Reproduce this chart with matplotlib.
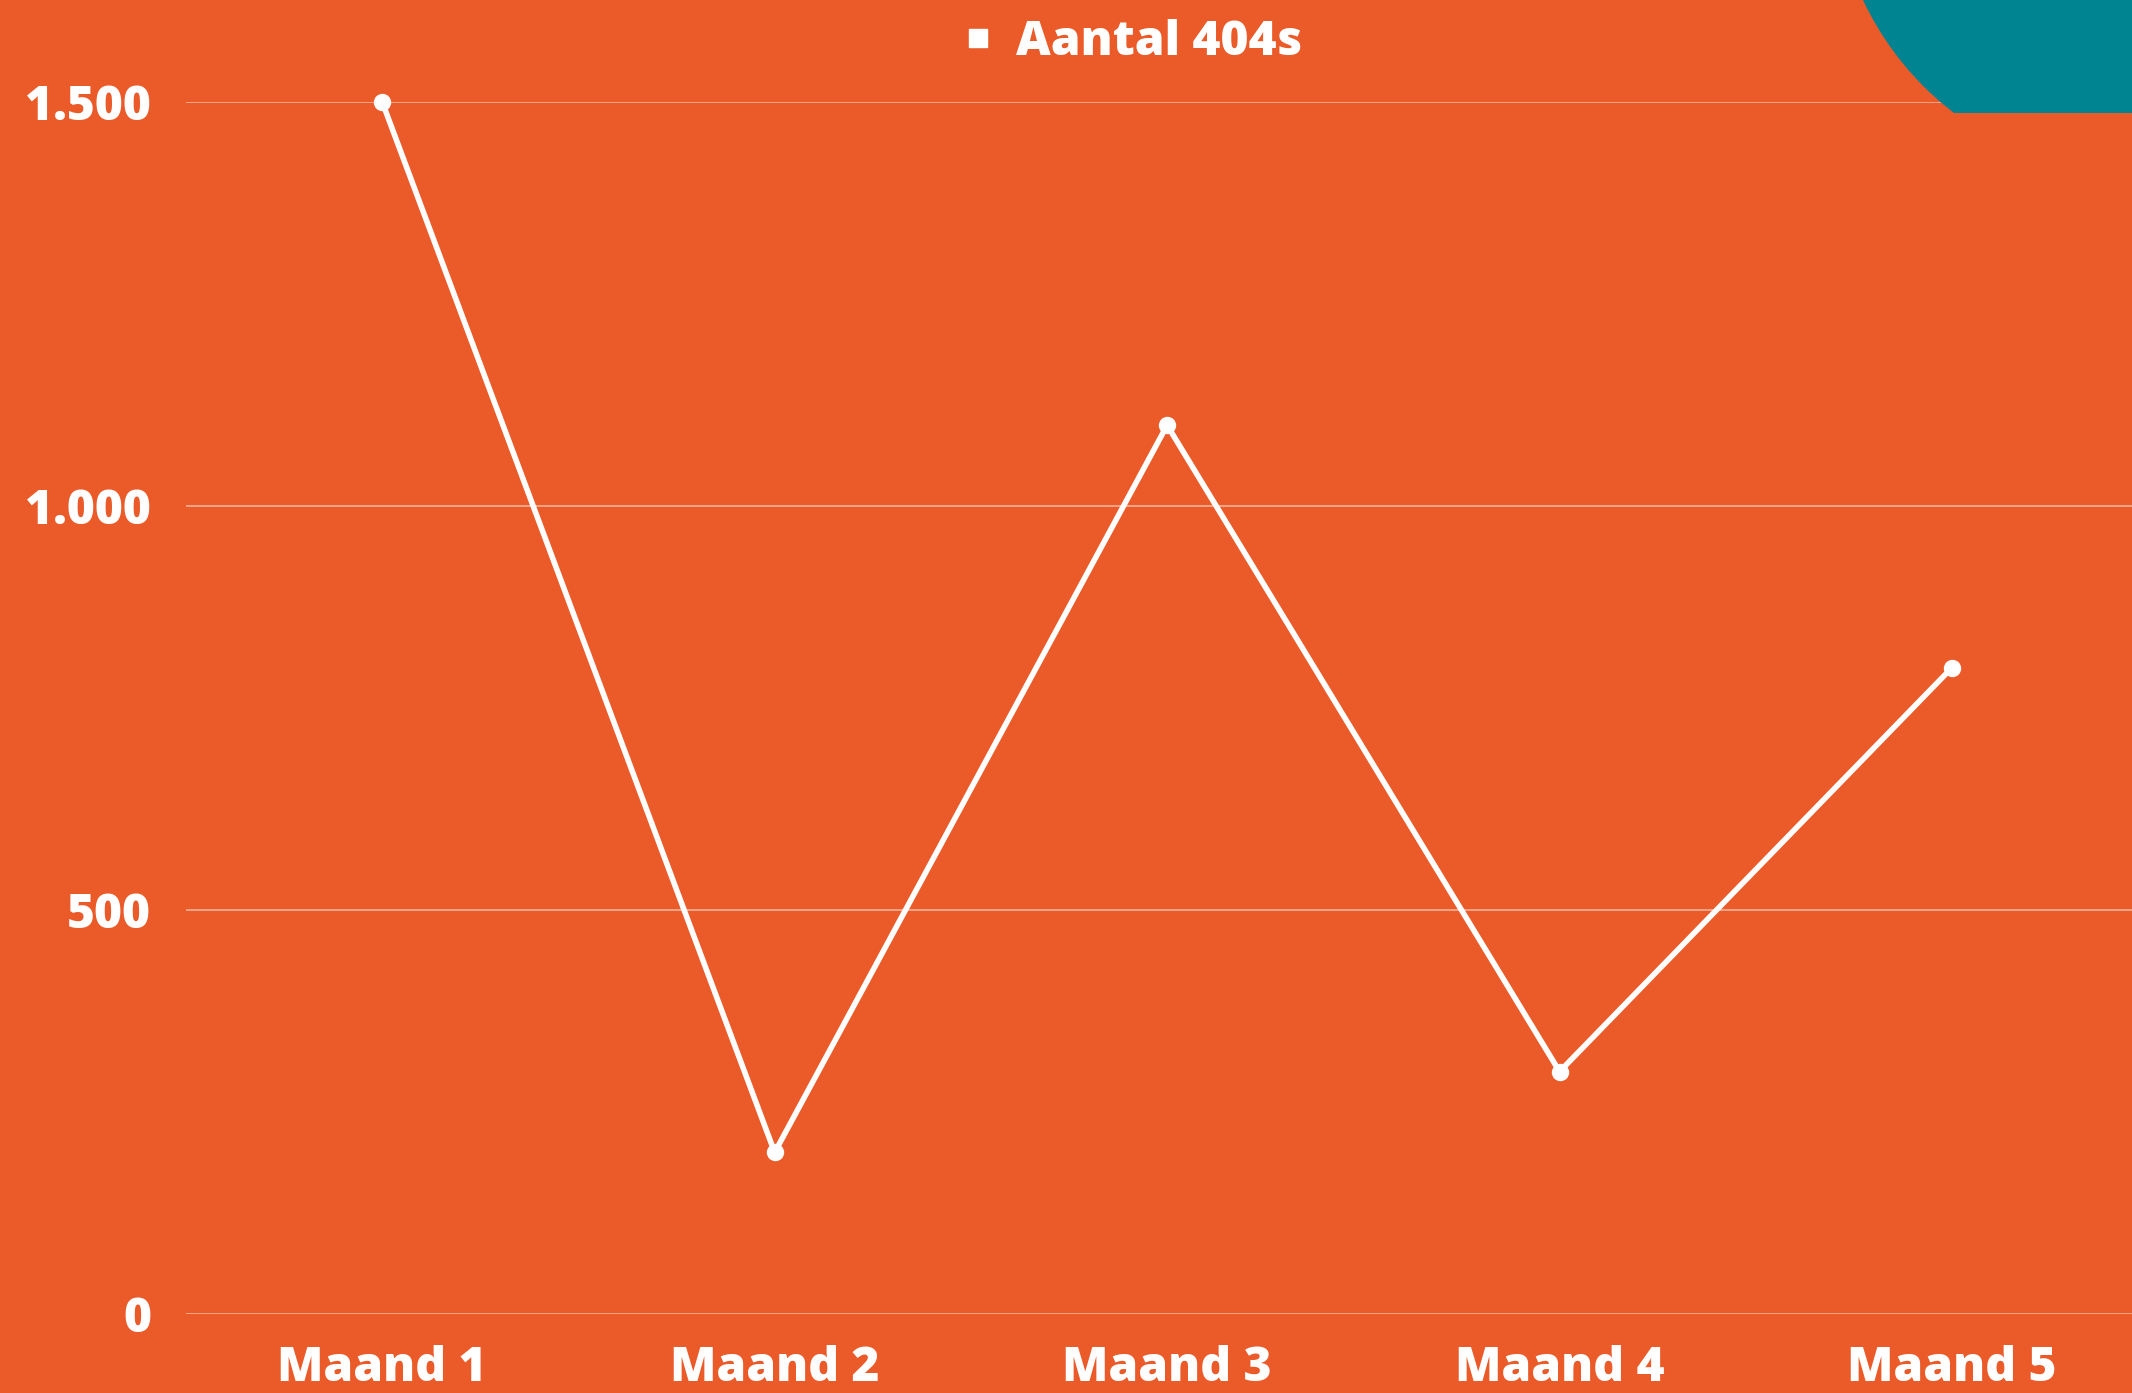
import numpy as np
import matplotlib
matplotlib.use('Agg')
import matplotlib.pyplot as plt
from matplotlib.patches import Circle, Rectangle
from matplotlib.lines import Line2D

# data
maanden = ['Maand 1', 'Maand 2', 'Maand 3', 'Maand 4', 'Maand 5']
aantal_404s = [1500, 200, 1100, 300, 800]
y_ticks = [0, 500, 1000, 1500]
y_tick_labels = ['0', '500', '1.000', '1.500']
serie_naam = 'Aantal 404s'

oranje = '#EB5B29'
teal = '#008491'
W, H = 2132, 1393

plt.rcParams['font.family'] = ['Open Sans', 'DejaVu Sans']

fig = plt.figure(figsize=(W / 100, H / 100), dpi=100)
fig.patch.set_facecolor(oranje)

ax = fig.add_axes([186 / W, 1 - 1314 / H, 1 - 186 / W, (1314 - 102) / H])
ax.set_facecolor(oranje)
x = np.arange(len(maanden))
ax.plot(x, aantal_404s, color='white', lw=4, marker='o', ms=11.5,
        clip_on=False, zorder=3)

ax.set_xlim(-0.5, (W - 382) / 392.5)
ax.set_ylim(0, 1500)
ax.set_xticks(x)
ax.set_xticklabels(maanden)
ax.set_yticks(y_ticks)
ax.set_yticklabels(y_tick_labels)
for s in ax.spines.values():
    s.set_visible(False)
ax.tick_params(axis='both', length=0, colors='white')
ax.tick_params(axis='y', pad=25)
ax.tick_params(axis='x', pad=22)
for lab in ax.get_xticklabels() + ax.get_yticklabels():
    lab.set_fontsize(34.5)
    lab.set_fontweight('heavy')
ax.yaxis.grid(True, color='white', alpha=0.45, lw=1.4)
ax.set_axisbelow(True)

# legend on top
handle = Line2D([], [], color='white', marker='s', ls='none', ms=13)
leg = fig.legend([handle], [serie_naam], loc='center',
                 bbox_to_anchor=(1128 / W, 1 - 43 / H), frameon=False,
                 handletextpad=0.3, handlelength=1.0,
                 prop={'size': 34.5, 'weight': 'heavy'})
for t in leg.get_texts():
    t.set_color('white')

# teal shape in the top right corner
deco = fig.add_axes([0, 0, 1, 1], zorder=5)
deco.set_xlim(0, W)
deco.set_ylim(H, 0)
deco.axis('off')
circ = Circle((2140, -130), 306, color=teal, lw=0)
deco.add_patch(circ)
circ.set_clip_path(Rectangle((1700, -50), 500, 163, transform=deco.transData))

fig.savefig('out.png', dpi=100, facecolor=oranje)
